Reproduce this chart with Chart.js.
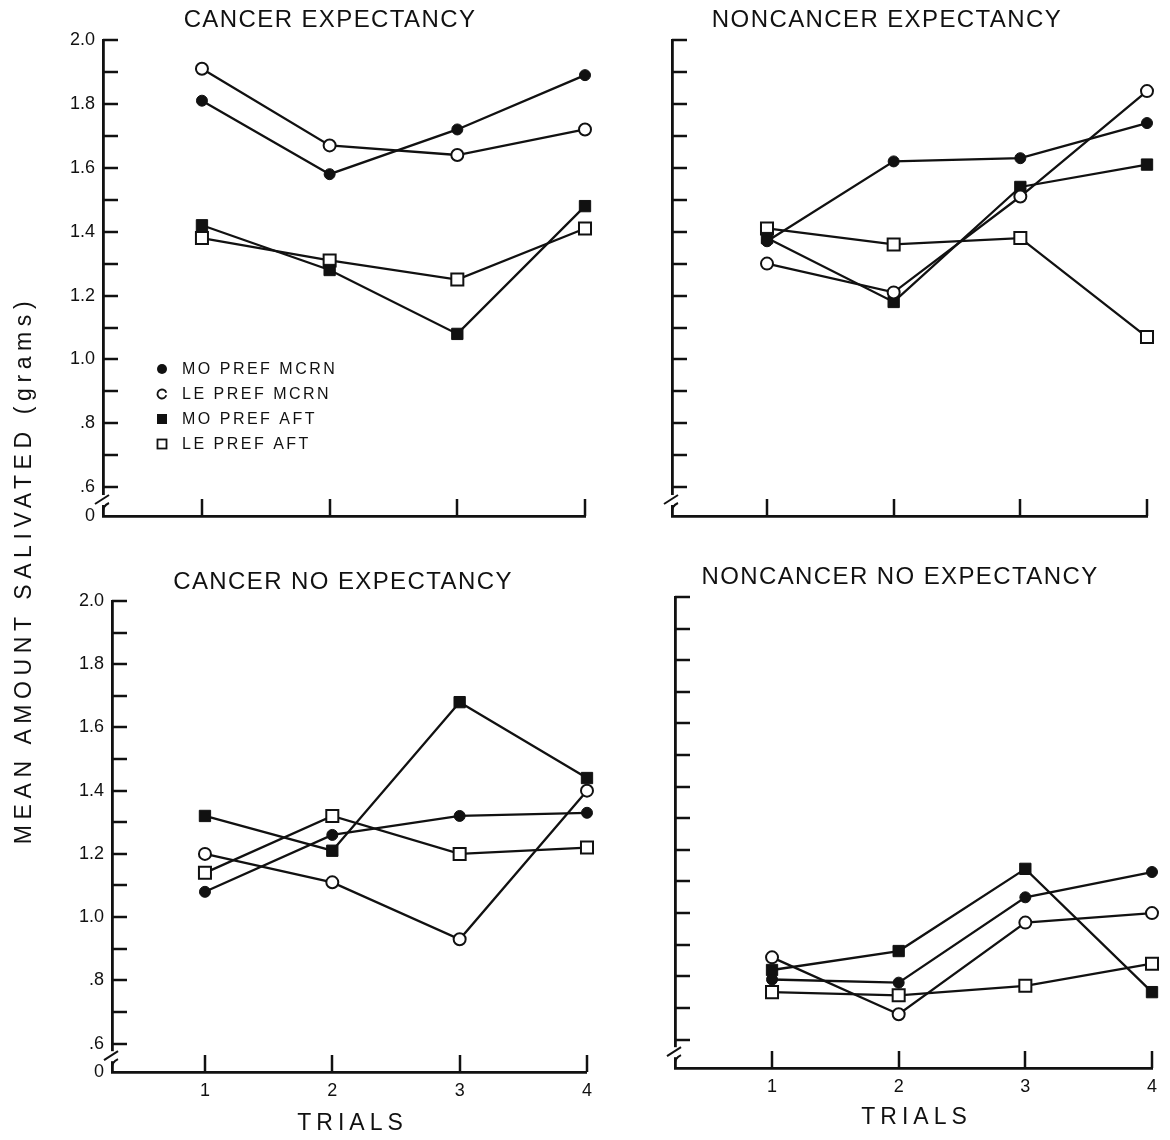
<!DOCTYPE html>
<html>
<head>
<meta charset="utf-8">
<script src="https://cdn.jsdelivr.net/npm/chart.js@4.4.1/dist/chart.umd.min.js"></script>
<style>
    body {margin: 0; background: #fff}
    #page {position: relative; width: 1170px; height: 1140px; background: #fff; overflow: hidden}
    canvas {position: absolute}
    #ytitle {
        position: absolute; left: -278px; top: 558px; width: 600px; height: 24px; line-height: 24px;
        text-align: center; font: 23px "Liberation Sans"; letter-spacing: 5.6px; color: #111;
        transform: rotate(-90deg); transform-origin: center; white-space: nowrap
    }
</style>
</head>
<body>
<div id="page">
    <canvas id="c1"></canvas>
    <canvas id="c2"></canvas>
    <canvas id="c3"></canvas>
    <canvas id="c4"></canvas>
    <div id="ytitle">MEAN AMOUNT SALIVATED (grams)</div>
</div>
<script>
'use strict'

let trials = [1, 2, 3, 4],
    seriesNames = ['MO PREF MCRN', 'LE PREF MCRN', 'MO PREF AFT', 'LE PREF AFT'],
    yLabelValues = [0.6, 0.8, 1.0, 1.2, 1.4, 1.6, 1.8, 2.0],
    yLabelText = ['.6', '.8', '1.0', '1.2', '1.4', '1.6', '1.8', '2.0'],
    yTickMarks = [0.6, 0.7, 0.8, 0.9, 1.0, 1.1, 1.2, 1.3, 1.4, 1.5, 1.6, 1.7, 1.8, 1.9, 2.0],
    yBreakValue = 0.51,

    cancerExpMoMorn = [1.81, 1.58, 1.72, 1.89],
    cancerExpLeMorn = [1.91, 1.67, 1.64, 1.72],
    cancerExpMoAft = [1.42, 1.28, 1.08, 1.48],
    cancerExpLeAft = [1.38, 1.31, 1.25, 1.41],

    noncancerExpMoMorn = [1.37, 1.62, 1.63, 1.74],
    noncancerExpLeMorn = [1.30, 1.21, 1.51, 1.84],
    noncancerExpMoAft = [1.38, 1.18, 1.54, 1.61],
    noncancerExpLeAft = [1.41, 1.36, 1.38, 1.07],

    cancerNoExpMoMorn = [1.08, 1.26, 1.32, 1.33],
    cancerNoExpLeMorn = [1.20, 1.11, 0.93, 1.40],
    cancerNoExpMoAft = [1.32, 1.21, 1.68, 1.44],
    cancerNoExpLeAft = [1.14, 1.32, 1.20, 1.22],

    noncancerNoExpMoMorn = [0.79, 0.78, 1.05, 1.13],
    noncancerNoExpLeMorn = [0.86, 0.68, 0.97, 1.00],
    noncancerNoExpMoAft = [0.82, 0.88, 1.14, 0.75],
    noncancerNoExpLeAft = [0.75, 0.74, 0.77, 0.84]

let ink = '#111',
    fontFamily = '"Liberation Sans", Arial, sans-serif',
    markerStyles = [
        {pointStyle: 'circle', pointRadius: 5.5, pointBackgroundColor: ink, pointBorderWidth: 1},
        {pointStyle: 'circle', pointRadius: 6, pointBackgroundColor: '#fff', pointBorderWidth: 2},
        {pointStyle: 'rect', pointRadius: 8, pointBackgroundColor: ink, pointBorderWidth: 1},
        {pointStyle: 'rect', pointRadius: 8.5, pointBackgroundColor: '#fff', pointBorderWidth: 2}
    ]

// page boxes: canvas rect and plot area (axis lines) in page pixels
let panels = [
    {id: 'c1', left: 0, top: 0, width: 600, height: 560, area: [103, 40, 585, 516], xMin: 0.225,
        title: 'CANCER EXPECTANCY', titleX: 330, titleY: 20, yLabels: true, xLabels: false, legend: true,
        series: [cancerExpMoMorn, cancerExpLeMorn, cancerExpMoAft, cancerExpLeAft]},
    {id: 'c2', left: 600, top: 0, width: 570, height: 560, area: [672, 40, 1147, 516], xMin: 0.25,
        title: 'NONCANCER EXPECTANCY', titleX: 887, titleY: 20, yLabels: false, xLabels: false, legend: false,
        series: [noncancerExpMoMorn, noncancerExpLeMorn, noncancerExpMoAft, noncancerExpLeAft]},
    {id: 'c3', left: 0, top: 560, width: 600, height: 580, area: [112, 601, 588, 1072], xMin: 0.27,
        title: 'CANCER NO EXPECTANCY', titleX: 343, titleY: 582, yLabels: true, xLabels: true, legend: false,
        trialsY: 1124,
        series: [cancerNoExpMoMorn, cancerNoExpLeMorn, cancerNoExpMoAft, cancerNoExpLeAft]},
    {id: 'c4', left: 600, top: 560, width: 570, height: 580, area: [675, 597, 1152, 1068], xMin: 0.234,
        title: 'NONCANCER NO EXPECTANCY', titleX: 900, titleY: 577, yLabels: false, xLabels: true, legend: false,
        trialsY: 1118,
        series: [noncancerNoExpMoMorn, noncancerNoExpLeMorn, noncancerNoExpMoAft, noncancerNoExpLeAft]}
]

let decorPlugin = {
    id: 'decor',
    afterDraw(chart) {
        let p = chart.options.plugins.decor.panel,
            ctx = chart.ctx,
            area = chart.chartArea,
            xs = chart.scales.x,
            ys = chart.scales.y
        ctx.save()
        ctx.strokeStyle = ink
        ctx.fillStyle = ink
        ctx.lineWidth = 2.5
        ctx.lineCap = 'butt'

        // inward tick marks
        yTickMarks.forEach(v => {
            let y = Math.round(ys.getPixelForValue(v))
            ctx.beginPath()
            ctx.moveTo(area.left, y)
            ctx.lineTo(area.left + 15, y)
            ctx.stroke()
        })
        trials.forEach(v => {
            let x = Math.round(xs.getPixelForValue(v))
            ctx.beginPath()
            ctx.moveTo(x, area.bottom)
            ctx.lineTo(x, area.bottom - 17)
            ctx.stroke()
        })

        // axis break
        let yb = ys.getPixelForValue(0.56)
        ctx.fillStyle = '#fff'
        ctx.fillRect(area.left - 3, yb - 5, 6, 10)
        ctx.fillStyle = ink
        ctx.lineWidth = 2
        ctx.beginPath()
        ctx.moveTo(area.left - 8, yb + 4)
        ctx.lineTo(area.left + 6, yb - 5)
        ctx.stroke()
        ctx.beginPath()
        ctx.moveTo(area.left + 6, yb + 3)
        ctx.quadraticCurveTo(area.left - 1, yb + 6, area.left, yb + 14)
        ctx.stroke()

        // panel title
        ctx.font = '24px ' + fontFamily
        ctx.letterSpacing = '1.4px'
        ctx.textAlign = 'center'
        ctx.textBaseline = 'middle'
        ctx.fillText(p.title, p.titleX - p.left, p.titleY - p.top)

        if (p.trialsY) {
            ctx.font = '23px ' + fontFamily
            ctx.letterSpacing = '5px'
            ctx.fillText('TRIALS', (area.left + area.right) / 2 + 3, p.trialsY - p.top)
        }

        if (p.legend) {
            ctx.font = '16px ' + fontFamily
            ctx.letterSpacing = '2.5px'
            ctx.textAlign = 'left'
            let lx = 162 - p.left
            seriesNames.forEach((name, i) => {
                let ly = 369 + i * 25 - p.top
                ctx.lineWidth = 1.8
                ctx.fillStyle = ink
                ctx.beginPath()
                if (i === 0) {
                    ctx.arc(lx, ly, 5, 0, Math.PI * 2)
                    ctx.fill()
                } else if (i === 1) {
                    ctx.arc(lx, ly, 4.5, 0.3, Math.PI * 2 - 0.3)
                    ctx.stroke()
                } else if (i === 2) {
                    ctx.fillRect(lx - 5, ly - 5, 10, 10)
                } else {
                    ctx.strokeRect(lx - 4.5, ly - 4.5, 9, 9)
                }
                ctx.fillText(name, lx + 20, ly + 1)
            })
        }
        ctx.restore()
    }
}

function makePanel(p) {
    let canvas = document.getElementById(p.id)
    canvas.width = p.width
    canvas.height = p.height
    canvas.style.left = p.left + 'px'
    canvas.style.top = p.top + 'px'

    let datasets = p.series.map((values, i) => Object.assign({
        label: seriesNames[i],
        data: trials.map((t, k) => ({x: t, y: values[k]})),
        borderColor: ink,
        borderWidth: 2.3,
        pointBorderColor: ink,
        tension: 0,
        clip: false
    }, markerStyles[i]))

    return new Chart(canvas, {
        type: 'line',
        data: {datasets: datasets},
        plugins: [decorPlugin],
        options: {
            responsive: false,
            animation: false,
            events: [],
            layout: {
                padding: {
                    left: 0,
                    top: p.area[1] - p.top,
                    right: p.left + p.width - p.area[2],
                    bottom: 0
                }
            },
            plugins: {
                legend: {display: false},
                tooltip: {enabled: false},
                decor: {panel: p}
            },
            scales: {
                x: {
                    type: 'linear',
                    min: p.xMin,
                    max: 4,
                    afterBuildTicks: scale => {
                        scale.ticks = trials.map(v => ({value: v}))
                    },
                    afterFit: scale => {
                        scale.height = p.top + p.height - p.area[3]
                    },
                    grid: {display: false, drawTicks: false},
                    border: {display: true, color: ink, width: 2.8},
                    ticks: {
                        display: p.xLabels,
                        padding: 8,
                        color: ink,
                        font: {family: fontFamily, size: 18},
                        callback: v => String(v),
                        maxRotation: 0
                    }
                },
                y: {
                    type: 'linear',
                    min: yBreakValue,
                    max: 2.0,
                    afterBuildTicks: scale => {
                        scale.ticks = [{value: yBreakValue}].concat(yLabelValues.map(v => ({value: v})))
                    },
                    afterFit: scale => {
                        scale.width = p.area[0] - p.left
                    },
                    grid: {display: false, drawTicks: false},
                    border: {display: true, color: ink, width: 2.8},
                    ticks: {
                        display: p.yLabels,
                        padding: 8,
                        color: ink,
                        font: {family: fontFamily, size: 18},
                        autoSkip: false,
                        callback: v => {
                            if (v === yBreakValue) return '0'
                            let i = yLabelValues.indexOf(v)
                            return i >= 0 ? yLabelText[i] : ''
                        }
                    }
                }
            }
        }
    })
}

panels.forEach(p => makePanel(p))
</script>
</body>
</html>
